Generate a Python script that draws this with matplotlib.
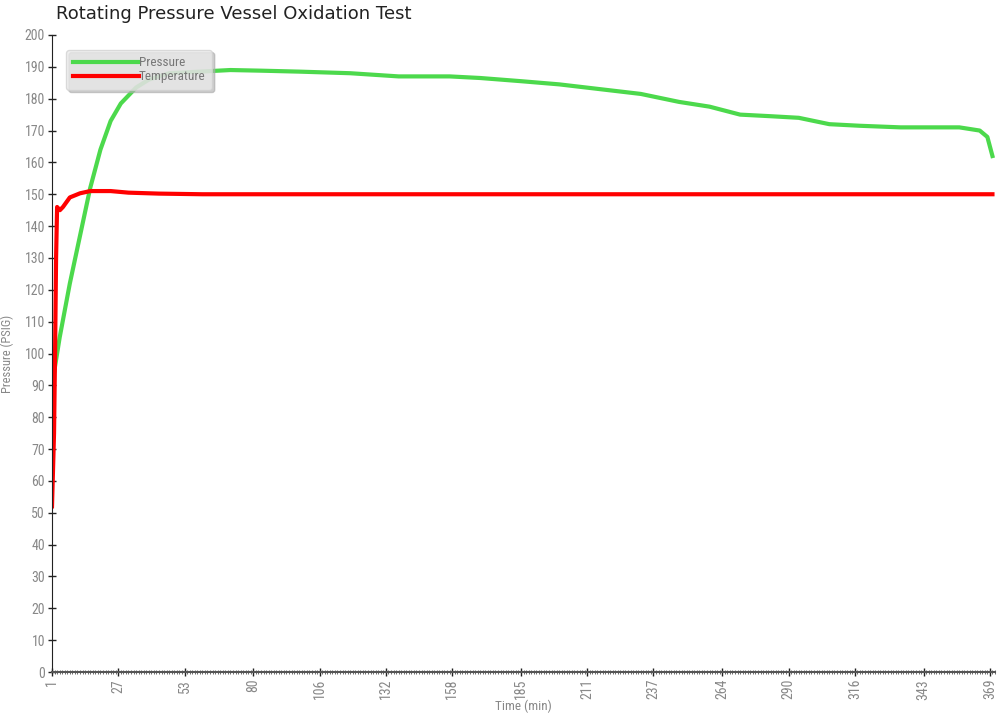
"""
Rotating pressure vessel oxidation test plot.
"""
import numpy as np
import matplotlib.pyplot as plt
from matplotlib import font_manager
from matplotlib.ticker import MultipleLocator

# values
pres_t = [1, 4, 8, 12, 16, 20, 24, 28, 34, 39, 47, 59, 71, 83, 98, 118, 137,
          157, 169, 185, 200, 216, 232, 247, 259, 271, 283, 294, 306, 318,
          334, 349, 357, 365, 368, 370]
pres_v = [90, 105, 122, 137, 152, 164, 173, 178.5, 183.5, 186, 188, 188.5, 189,
          188.8, 188.5, 188, 187, 187, 186.5, 185.5, 184.5, 183, 181.5, 179,
          177.5, 175, 174.5, 174, 172, 171.5, 171, 171, 171, 170, 168, 162]

temp_t = [1, 1.8, 2.2, 2.6, 3.0, 4.1, 5.3, 8, 12, 16, 24, 31, 43, 60, 120,
          200, 300, 370]
temp_v = [52, 75, 100, 130, 146, 145, 146, 149, 150.3, 151, 151, 150.5,
          150.2, 150, 150, 150, 150, 150]

xtick_labels = [1, 27, 53, 80, 106, 132, 158, 185, 211, 237, 264, 290, 316,
                343, 369]

def pick_font():
    names = {f.name for f in font_manager.fontManager.ttflist}
    for n in ["Liberation Sans Narrow", "DejaVu Sans Condensed",
              "Roboto Condensed", "Open Sans Condensed", "Roboto"]:
        if n in names:
            return [n, "DejaVu Sans"]
    return ["DejaVu Sans"]

def main():
    font = pick_font()
    fig = plt.figure(figsize=(10.03, 7.18), dpi=100)
    ax = fig.add_axes([52 / 1003, 46 / 718, 943 / 1003, 637 / 718])

    ax.plot(pres_t, pres_v, color="#4cd94c", lw=3, label="Pressure")
    ax.plot(temp_t, temp_v, color="#ff0000", lw=3, label="Temperature")

    ax.set_xlim(1, 371)
    ax.set_ylim(0, 200)
    ax.set_yticks(range(0, 201, 10))
    ax.set_xticks(xtick_labels)
    ax.set_xticklabels([str(v) for v in xtick_labels], rotation=90)
    ax.xaxis.set_minor_locator(MultipleLocator(1))

    for s in ["top", "right"]:
        ax.spines[s].set_visible(False)
    ax.spines["left"].set_color("#222222")
    ax.spines["bottom"].set_color("#555555")
    ax.spines["bottom"].set_linewidth(1.5)

    ax.tick_params(axis="both", which="major", direction="inout", length=6,
                   width=1, colors="#222222", labelcolor="#888888",
                   labelsize=10, pad=2)
    ax.tick_params(axis="x", which="minor", direction="inout", length=3,
                   width=0.6, colors="#555555")
    for lbl in ax.get_xticklabels() + ax.get_yticklabels():
        lbl.set_family(font)

    ax.set_xlabel("Time (min)", color="#888888", fontsize=9.5, family=font)
    ax.xaxis.set_label_coords(0.5, -0.043)
    ax.set_ylabel("Pressure (PSIG)", color="#888888", fontsize=9,
                  family=font)
    ax.yaxis.set_label_coords(-0.04, 0.5)

    fig.text(56 / 1003, 1 - 14 / 718, "Rotating Pressure Vessel Oxidation Test",
             fontsize=13, color="#222222", va="center", ha="left")

    leg = ax.legend(loc="upper left", bbox_to_anchor=(0.008, 0.987),
                    handlelength=5.0, handletextpad=0.0, labelspacing=0.05,
                    fancybox=True, framealpha=0.75,
                    shadow={"color": "#aaaaaa", "alpha": 0.6},
                    prop={"family": font, "size": 9.5}, borderpad=0.5)
    leg.get_frame().set_facecolor("#ebebeb")
    leg.get_frame().set_edgecolor("#d0d0d0")
    for t in leg.get_texts():
        t.set_color("#777777")

    fig.savefig("out.png", dpi=100)

if __name__ == "__main__":
    main()
